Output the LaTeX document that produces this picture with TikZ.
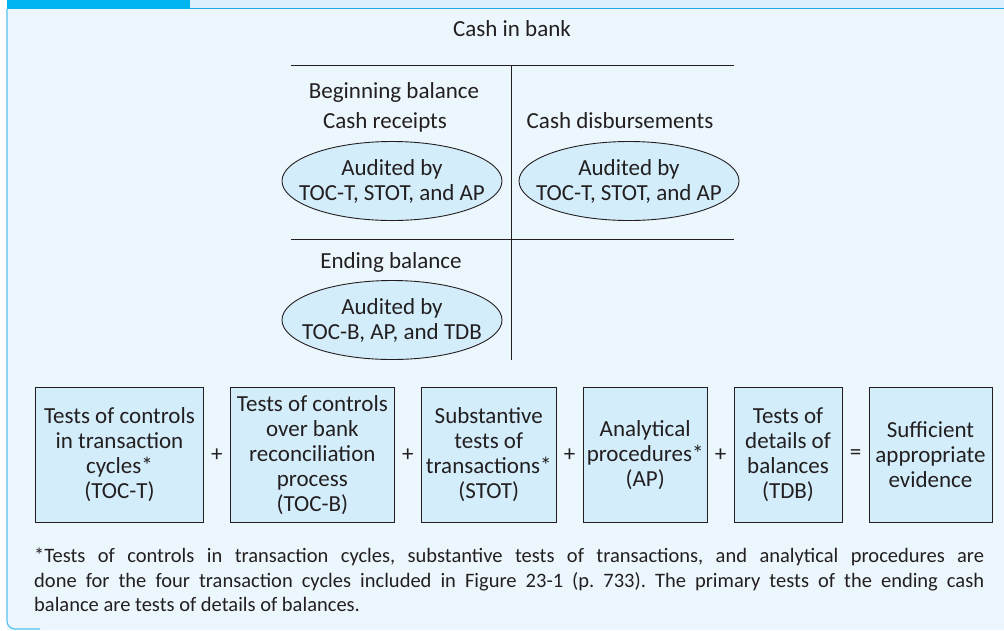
\documentclass[tikz,border=0pt]{standalone}
\usepackage{fontspec}
\setmainfont{Carlito}
\usetikzlibrary{positioning,shapes.geometric}
\definecolor{tabblue}{HTML}{00B4EF}
\definecolor{bandblue}{HTML}{DCF0FB}
\definecolor{rimblue}{HTML}{22A9E0}
\definecolor{edgeblue}{HTML}{55C3EE}
\definecolor{paper}{HTML}{ECF7FD}
\definecolor{boxfill}{HTML}{D3EDFB}
\definecolor{ink}{HTML}{231F20}

\begin{document}
\begin{tikzpicture}[x=1pt,y=-1pt,
  txt/.style={font=\fontsize{23}{25}\selectfont,text=ink},
  oval/.style={ellipse,draw=ink,fill=boxfill,line width=0.9pt,
    minimum width=220pt,minimum height=79pt,inner sep=0pt},
  ovaltxt/.style={txt,align=center,inner sep=0pt},
  box/.style={draw=ink,fill=boxfill,line width=0.9pt,minimum height=135pt,
    inner sep=0pt,align=center,txt},
  op/.style={txt,inner sep=0pt},
  rule/.style={draw=ink,line width=1pt}]
\useasboundingbox (0,0) rectangle (1004,630);
% frame
\fill[white] (0,0) rectangle (1004,630);
\fill[paper] (7,9) rectangle (1004,630);
\fill[bandblue] (190,0) rectangle (1004,8);
\draw[rimblue,line width=1.3pt] (190,8.5) -- (1004,8.5);
\fill[tabblue] (7,0) rectangle (190,9.2);
\draw[edgeblue,line width=1.2pt,rounded corners=8pt] (7,9) -- (7,629) -- (40,629);

% T-account
\node[txt,anchor=base] (acct) at (512,36) {Cash in bank};
\coordinate (tl) at (291,65);  \coordinate (tr) at (734,65);
\coordinate (ml) at (291,239); \coordinate (mr) at (734,239);
\coordinate (vt) at (511,65);  \coordinate (vb) at (511,360);
\draw[rule] (tl) -- (tr);
\draw[rule] (ml) -- (mr);
\draw[rule] (vt) -- (vb);
\node[txt,anchor=base] (begbal) at (394,98) {Beginning balance};
\node[txt,anchor=base] (rcptlbl) at (385,128) {Cash receipts};
\node[txt,anchor=base] (disblbl) at (620,128) {Cash disbursements};
\node[txt,anchor=base] (endlbl) at (391,268) {Ending balance};
\node[oval] (rcpt) at (392,181) {};
\node[ovaltxt] at (rcpt) {Audited by\\TOC-T, STOT, and AP};
\node[oval] (disb) at (629,181) {};
\node[ovaltxt] at (disb) {Audited by\\TOC-T, STOT, and AP};
\node[oval] (endb) at (392,320) {};
\node[ovaltxt] at (endb) {Audited by\\TOC-B, AP, and TDB};

% evidence equation
\node[box,minimum width=168pt,anchor=north west] (toct) at (35,387)
  {Tests of controls\\in transaction\\cycles*\\(TOC-T)};
\node[box,minimum width=164pt,right=26pt of toct] (tocb)
  {Tests of controls\\over bank\\reconciliation\\process\\(TOC-B)};
\node[box,minimum width=135pt,right=26pt of tocb] (stot)
  {Substantive\\tests of\\transactions*\\(STOT)};
\node[box,minimum width=124pt,right=26pt of stot] (ap)
  {Analytical\\procedures*\\(AP)};
\node[box,minimum width=108pt,right=26pt of ap] (tdb)
  {Tests of\\details of\\balances\\(TDB)};
\node[box,minimum width=123pt,right=26pt of tdb] (sae)
  {Sufficient\\appropriate\\evidence};
\path (toct) -- node[op]{+} (tocb);
\path (tocb) -- node[op]{+} (stot);
\path (stot) -- node[op]{+} (ap);
\path (ap) -- node[op]{+} (tdb);
\path (tdb) -- node[op]{=} (sae);

% footnote
\node[anchor=north west,text width=950pt,align=justify,inner sep=0pt,
  font=\fontsize{20.5}{24.5}\selectfont\frenchspacing,text=ink] (note) at (34,548)
  {*Tests of controls in transaction cycles, substantive tests of transactions, and analytical procedures are\linebreak
   done for the four transaction cycles included in Figure 23-1 (p.~733). The primary tests of the ending cash\linebreak
   balance are tests of details of balances.};
\end{tikzpicture}
\end{document}
